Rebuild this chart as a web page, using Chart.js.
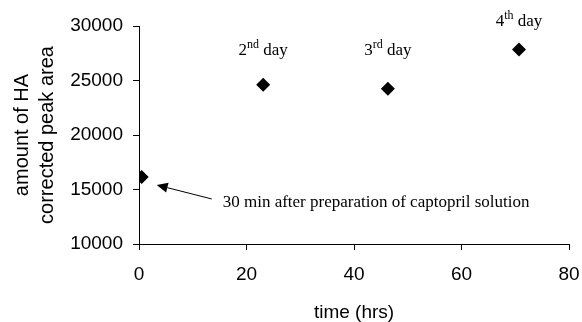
<!DOCTYPE html>
<html><head><meta charset="utf-8">
<script src="https://cdn.jsdelivr.net/npm/chart.js@4/dist/chart.umd.min.js"></script>
<style>html,body{margin:0;padding:0;background:#fff}#wrap{width:582px;height:322px}</style>
</head><body><div id="wrap"><canvas id="c" width="582" height="322"></canvas></div>
<script>
// data
const timeHrs = [0.5, 23.1, 46.3, 70.7];
const peakArea = [16150, 24600, 24250, 27850];
const dayNums = ['', '2', '3', '4'];
const daySups = ['', 'nd', 'rd', 'th'];
const noteText = '30 min after preparation of captopril solution';
const xTitle = 'time (hrs)';
const yTitle = ['amount of HA', 'corrected peak area'];

const points = timeHrs.map((t, i) => ({x: t, y: peakArea[i]}));

const annot = {
  id: 'annot',
  afterDatasetsDraw(chart) {
    const ctx = chart.ctx;
    const xs = chart.scales.x, ys = chart.scales.y;
    const labelOffsets = [0, -34, -38, -28];
    ctx.save();
    ctx.fillStyle = '#000';
    ctx.textBaseline = 'middle';
    const big = '17px "Liberation Serif", "Times New Roman", serif';
    const small = '12px "Liberation Serif", "Times New Roman", serif';
    for (let i = 1; i < timeHrs.length; i++) {
      const px = xs.getPixelForValue(timeHrs[i]);
      const py = ys.getPixelForValue(peakArea[i]) + labelOffsets[i];
      ctx.font = big; const w1 = ctx.measureText(dayNums[i]).width;
      const w3 = ctx.measureText(' day').width;
      ctx.font = small; const w2 = ctx.measureText(daySups[i]).width;
      let x0 = px - (w1 + w2 + w3) / 2;
      ctx.textAlign = 'left';
      ctx.font = big; ctx.fillText(dayNums[i], x0, py);
      ctx.font = small; ctx.fillText(daySups[i], x0 + w1, py - 6);
      ctx.font = big; ctx.fillText(' day', x0 + w1 + w2, py);
    }
    // arrow + note near first point
    const p0x = xs.getPixelForValue(timeHrs[0]);
    const p0y = ys.getPixelForValue(peakArea[0]);
    const tipX = p0x + 15, tipY = p0y + 8;
    const tailX = p0x + 70, tailY = p0y + 22;
    ctx.strokeStyle = '#000'; ctx.lineWidth = 1;
    const ang = Math.atan2(tipY - tailY, tipX - tailX);
    const hl = 11, hw = 5;
    const bx = tipX - hl * Math.cos(ang), by = tipY - hl * Math.sin(ang);
    ctx.beginPath(); ctx.moveTo(tailX, tailY); ctx.lineTo(bx, by); ctx.stroke();
    ctx.beginPath();
    ctx.moveTo(tipX, tipY);
    ctx.lineTo(bx + hw * Math.sin(ang), by - hw * Math.cos(ang));
    ctx.lineTo(bx - hw * Math.sin(ang), by + hw * Math.cos(ang));
    ctx.closePath(); ctx.fill();
    ctx.font = big;
    ctx.textAlign = 'left';
    ctx.fillText(noteText, p0x + 81, p0y + 26);
    ctx.restore();
  }
};

const sansFont = {family: '"Liberation Sans", Arial, sans-serif', size: 19};
const plain = v => String(v);
new Chart(document.getElementById('c'), {
  type: 'scatter',
  data: {datasets: [{data: points, pointStyle: 'rectRot', pointRadius: 7, pointHoverRadius: 7,
    backgroundColor: '#000', borderColor: '#000', borderWidth: 0}]},
  options: {
    responsive: false, animation: false, devicePixelRatio: 1,
    layout: {padding: {top: 26, right: 13, left: 0, bottom: 0}},
    plugins: {legend: {display: false}, tooltip: {enabled: false}},
    scales: {
      x: {type: 'linear', min: 0, max: 80,
        ticks: {stepSize: 20, color: '#000', font: sansFont, padding: 13, maxRotation: 0, callback: plain},
        grid: {display: true, drawOnChartArea: false, drawTicks: true, tickLength: 6, color: '#000'},
        border: {display: true, color: '#000', width: 1},
        title: {display: true, text: xTitle, color: '#000', font: {family: '"Liberation Sans", Arial, sans-serif', size: 19, lineHeight: 1.0}, padding: {top: 4, bottom: 0}},
        afterFit(s) { s.height = 78; s.paddingRight = 0; s.paddingLeft = 0; }
      },
      y: {type: 'linear', min: 10000, max: 30000,
        ticks: {stepSize: 5000, color: '#000', font: sansFont, padding: 10, callback: plain},
        grid: {display: true, drawOnChartArea: false, drawTicks: true, tickLength: 6, color: '#000'},
        border: {display: true, color: '#000', width: 1},
        title: {display: true, text: yTitle, color: '#000', font: {family: '"Liberation Sans", Arial, sans-serif', size: 20, lineHeight: 1.25}, padding: {top: 10, bottom: 0}},
        afterFit(s) { s.width = 139; }
      }
    }
  },
  plugins: [annot]
});
</script></body></html>
